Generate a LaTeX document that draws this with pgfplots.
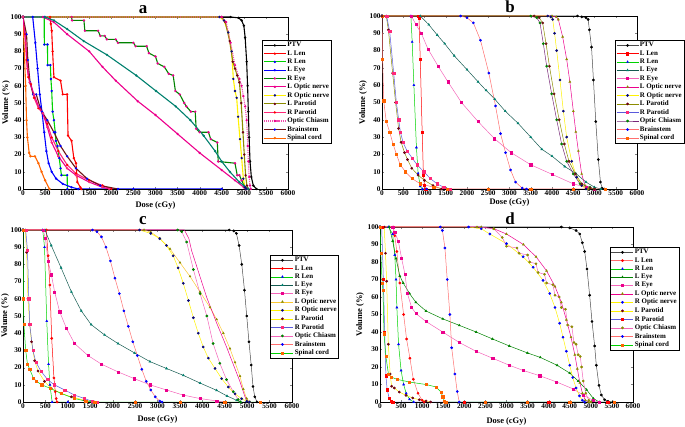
\documentclass[border=0pt]{standalone}
\usepackage{pgfplots}
\pgfplotsset{compat=1.18}
\usepackage{fontspec}
\setmainfont{Liberation Serif}
\definecolor{cteal}{RGB}{0,128,110}
\definecolor{cdteal}{RGB}{20,90,80}
\definecolor{cnavy}{RGB}{10,10,120}
\definecolor{colive}{RGB}{140,140,0}
\definecolor{cmaroon}{RGB}{110,0,20}
\definecolor{cslate}{RGB}{90,90,220}
\definecolor{cpink}{RGB}{255,40,120}
\definecolor{corange}{RGB}{255,100,0}
\definecolor{csalmon}{RGB}{255,110,110}
\definecolor{cgreen}{RGB}{0,210,0}
\definecolor{cdgreen}{RGB}{0,130,0}
\definecolor{ccyan}{RGB}{90,230,180}
\definecolor{cbrown}{RGB}{110,20,20}
\definecolor{cpurple}{RGB}{120,40,120}
\pgfplotsset{
  org/.style 2 args={draw=#1, mark options={draw=#2, fill=#2, solid}},
  dvh/.style={
    scale only axis, xmin=0, xmax=6000, ymin=0, ymax=100,
    xtick={0,500,...,6000}, ytick={0,10,...,100},
    tick align=inside, major tick length=2bp,
    /pgf/number format/assume math mode=true,
    /pgf/number format/1000 sep={},
    ticklabel style={font=\bfseries\fontsize{7.3}{8}\selectfont},
    xticklabel style={inner sep=1.2bp},
    yticklabel style={inner sep=1.2bp},
    xlabel={Dose (cGy)}, ylabel={Volume (\%)},
    label style={font=\bfseries\fontsize{8.5}{9}\selectfont},
    xlabel style={at={([yshift=-16bp]axis description cs:0.5,0)}, anchor=center},
    ylabel style={at={([xshift=-17bp]axis description cs:0,0.5)}, anchor=center},
    legend cell align=left,
    legend style={font=\bfseries\fontsize{7}{7.5}\selectfont, anchor=north west,
      draw=black, line width=0.5bp, inner sep=1bp, row sep=0pt,
      nodes={inner sep=1.1bp}},
    legend image code/.code={\draw[mark repeat=2,mark phase=2,#1] plot coordinates {(0bp,0bp)(11bp,0bp)(22bp,0bp)};},
    axis line style={line width=0.6bp},
  }
}
\tikzset{ptitle/.style={anchor=base, inner sep=0pt, font=\bfseries\fontsize{17}{17}\selectfont}}
\begin{document}
\begin{tikzpicture}
\path[use as bounding box] (0,0) rectangle (685bp,427bp);
\node[ptitle] at (143bp,413.5bp) {a};
\node[ptitle] at (510bp,414bp) {b};
\node[ptitle] at (143bp,202bp) {c};
\node[ptitle] at (510bp,202bp) {d};
% ================= a =================
\begin{axis}[dvh, at={(23bp,238bp)}, anchor=south west, width=265bp, height=172bp,
  legend style={at={(axis description cs:0.902,0.866)}},
  every axis plot/.append style={line width=1.1bp, mark size=0.55pt}]
\addplot[org={black}{black}, mark=*] coordinates {(0,100)(4700,100)(4880,99.5)(4950,98)(5000,95)(5030,88)(5064,74)(5085,60)(5102,45)(5120,30)(5140,16)(5170,7)(5215,2)(5290,0)};
\addlegendentry{PTV}
\addplot[org={red}{red}, mark=*] coordinates {(0,100)(610,100)(630,96)(650,92)(670,80)(700,65)(850,63)(900,55)(1000,55)(1020,31)(1100,28)(1150,18)(1200,15)(1230,4)(1300,1)(1320,0)};
\addlegendentry{L Len}
\addplot[org={cgreen}{blue}, mark=*] coordinates {(0,100)(480,100)(483,84)(555,84)(557,72)(620,72)(632,64)(650,57)(670,45)(700,40)(730,33)(745,28)(780,25)(820,18)(850,12)(870,8)(1000,8)(1005,0)};
\addlegendentry{R Len}
\addplot[org={blue}{blue}, mark=*] coordinates {(0,100)(220,100)(280,85)(330,70)(380,55)(430,45)(480,33)(530,22)(580,15)(650,10)(750,6)(900,3)(1100,1)(1250,0)(2500,0)(4500,0)};
\addlegendentry{L Eye}
\addplot[org={cdgreen}{magenta}, mark=*] coordinates {(0,100)(1100,100)(1110,98)(1380,98)(1400,92)(1700,92)(1750,89)(1850,89)(1900,87)(2100,87)(2150,85)(2500,85)(2550,83)(2800,83)(2850,79)(3000,77)(3050,73)(3200,71)(3300,67)(3400,66)(3450,57)(3550,55)(3650,50)(3700,48)(3800,45)(3900,45)(3920,35)(4000,33)(4200,33)(4250,29)(4400,27)(4420,16)(4800,15)(4850,8)(4900,8)(4950,5)(5050,0)};
\addlegendentry{R Eye}
\addplot[org={magenta}{magenta}, mark=*] coordinates {(0,100)(450,100)(700,97)(1000,90)(1500,80)(1800,71)(2100,63)(2600,51)(3000,43)(3500,32)(4000,21)(4500,11)(4800,5)(5000,1)(5100,0)};
\addlegendentry{L Optic nerve}
\addplot[org={yellow}{cnavy}, mark=*] coordinates {(0,100)(4450,100)(4550,98)(4649,91)(4725,80)(4762,64)(4800,57)(4838,53)(4870,42)(4913,29)(4951,18)(4989,6)(5026,1)(5050,0)};
\addlegendentry{R Optic nerve}
\addplot[org={colive}{cmaroon}, mark=*] coordinates {(0,100)(4500,100)(4580,97)(4680,86)(4750,74)(4800,70)(4850,66)(4900,62)(4940,50)(4980,33)(5010,20)(5040,8)(5070,2)(5100,0)};
\addlegendentry{L Parotid}
\addplot[org={cpink}{red}, mark=*] coordinates {(0,100)(50,90)(80,75)(120,65)(180,61)(250,53)(350,47)(450,44)(550,38)(650,30)(800,22)(1000,14)(1200,9)(1500,5)(1800,2)(2000,0)};
\addlegendentry{R Parotid}
\addplot[org={magenta!70}{magenta}, mark=*, densely dotted] coordinates {(0,100)(4500,100)(4600,97)(4700,85)(4800,72)(4900,64)(4950,60)(4989,54)(5030,48)(5064,40)(5090,25)(5102,16)(5120,7)(5140,2)(5160,0)};
\addlegendentry{Optic Chiasm}
\addplot[org={cbrown}{blue}, mark=*] coordinates {(0,100)(80,90)(110,75)(160,62)(230,55)(300,55)(380,48)(450,44)(550,40)(700,33)(850,25)(1000,19)(1200,12)(1450,6)(1750,2)(2150,0)};
\addlegendentry{Brainstem}
\addplot[org={corange}{corange}, mark=*] coordinates {(0,100)(30,80)(60,60)(80,40)(100,30)(140,21)(170,19)(270,19)(350,15)(420,10)(500,5)(600,0)};
\addlegendentry{Spinal cord}
\addplot[forget plot, org={cteal}{cteal}, mark=*] coordinates {(0,100)(500,100)(700,98)(1000,93)(1375,86)(1900,78)(2565,66)(3011,57)(3460,48)(3790,40)(4090,31)(4350,22)(4500,16)(4684,10)(4900,4)(5000,2)(5100,0)};
\addplot[forget plot, org={magenta}{cpink}, mark=*] coordinates {(0,100)(60,85)(100,70)(150,62)(250,55)(350,48)(450,44)(550,36)(650,27)(800,19)(1000,12)(1200,8)(1500,4)(1800,1)(1950,0)};
\end{axis}
% ================= b =================
\begin{axis}[dvh, at={(382bp,238bp)}, anchor=south west, width=255bp, height=173bp,
  ylabel style={at={([xshift=-19bp]axis description cs:0,0.5)}},
  xlabel style={at={([yshift=-13bp]axis description cs:0.5,0)}},
  legend style={at={(axis description cs:0.914,0.861)}},
  every axis plot/.append style={line width=0.5bp, mark size=1.1pt}]
\addplot[org={black!70}{black}, mark=*] coordinates {(0,100)(4600,100)(4700,99.5)(4800,99)(4850,98)(4880,92)(4930,82)(4975,63)(5030,39)(5090,17)(5140,4)(5180,0.5)(5230,0)};
\addlegendentry{PTV}
\addplot[org={red}{red}, mark=square*] coordinates {(0,100)(850,100)(870,99)(900,75)(945,33)(975,8)(1000,2)(1030,0)};
\addlegendentry{L Len}
\addplot[org={cgreen}{blue}, mark=triangle*] coordinates {(0,100)(680,100)(710,85)(750,60)(810,24)(850,9)(900,1.5)(950,0)(1050,0)};
\addlegendentry{R Len}
\addplot[org={cdteal}{cteal}, mark=triangle*] coordinates {(0,100)(900,100)(1100,95)(1300,89)(1475,84)(1700,77)(2000,69)(2259,62)(2450,57)(2651,52)(2900,45)(3200,38)(3500,30)(3760,23)(4000,19)(4300,13)(4560,9)(4800,4)(5000,1)(5150,0)};
\addlegendentry{L Eye}
\addplot[org={magenta!60}{magenta}, mark=square*] coordinates {(0,100)(690,100)(800,95)(925,90)(1080,81)(1320,71)(1550,62)(1870,50)(2260,39)(2650,29)(3040,21)(3500,14)(4000,8.5)(4500,3)(4800,1)(5000,0)};
\addlegendentry{R Eye}
\addplot[org={magenta}{colive}, mark=triangle*] coordinates {(0,100)(4000,100)(4100,99.5)(4149,98)(4250,88)(4345,75)(4420,62)(4502,45)(4560,33)(4620,22)(4698,8.7)(4776,2)(4850,0)};
\addlegendentry{L Optic nerve}
\addplot[org={yellow}{cnavy}, mark=*] coordinates {(0,100)(3900,100)(3970,99.5)(4016,98)(4060,90)(4110,80)(4188,63)(4267,45)(4345,30)(4463,16)(4580,6.8)(4698,2)(4800,0)};
\addlegendentry{R Optic nerve}
\addplot[org={colive}{cmaroon}, mark=*] coordinates {(0,100)(100,100)(150,92)(250,67)(320,50)(390,35)(450,27)(530,21)(600,17)(700,12)(850,8)(1000,5)(1200,2)(1400,0)};
\addlegendentry{L Parotid}
\addplot[org={cslate}{cpink}, mark=square*] coordinates {(0,100)(110,100)(181,91)(275,67)(338,50)(393,40)(432,33)(495,27)(589,22)(707,18)(825,14)(982,10)(1139,6)(1296,3)(1453,1)(1610,0)};
\addlegendentry{R Parotid}
\addplot[org={cpurple}{cdgreen}, mark=*] coordinates {(0,100)(3500,100)(3640,99)(3718,96)(3796,84)(3875,71)(3992,55)(4110,40)(4227,26)(4345,16)(4502,8.7)(4659,3)(4894,1)(5000,0)};
\addlegendentry{Optic Chiasm}
\addplot[org={csalmon}{blue}, mark=*] coordinates {(0,100)(1850,100)(2000,99)(2150,96)(2317,86)(2514,67)(2671,48)(2789,32)(2907,21)(3024,11)(3142,4)(3300,0.5)(3400,0)};
\addlegendentry{Brainstem}
\addplot[org={csalmon}{corange}, mark=square*] coordinates {(0,100)(15,75)(40,51)(100,39)(180,33)(260,26)(340,20)(430,14)(550,10)(707,6)(903,3)(1218,1)(1532,0)(2500,0)(3500,0)(4500,0)(5250,0)};
\addlegendentry{Spinal cord}
\addplot[forget plot, org={colive}{cbrown}, mark=*] coordinates {(0,100)(3580,100)(3700,99)(3780,96)(3860,84)(3940,71)(4050,55)(4170,40)(4290,26)(4400,16)(4550,8.7)(4700,3)(4900,0.5)(5000,0)};
\end{axis}
% ================= c =================
\begin{axis}[dvh, at={(23bp,25bp)}, anchor=south west, width=269bp, height=172bp,
  ylabel style={at={([xshift=-18bp]axis description cs:0,0.5)}},
  xlabel style={at={([yshift=-17bp]axis description cs:0.5,0)}},
  legend style={at={(axis description cs:0.918,0.855)}},
  every axis plot/.append style={line width=0.5bp, mark size=1.1pt}]
\addplot[org={black!70}{black}, mark=*] coordinates {(0,100)(4600,100)(4700,99.5)(4760,98)(4820,91)(4880,80)(4940,65)(4990,50)(5040,35)(5090,21.5)(5130,9)(5170,3)(5220,0)};
\addlegendentry{PTV}
\addplot[org={red}{red}, mark=*] coordinates {(0,100)(520,100)(560,85)(600,68)(640,37)(690,14)(720,6)(740,2)(760,0)};
\addlegendentry{L Len}
\addplot[org={cgreen}{blue}, mark=triangle*] coordinates {(0,100)(440,100)(480,90)(530,47)(570,22)(600,10)(650,0)(1000,0)};
\addlegendentry{R Len}
\addplot[org={cdteal}{cteal}, mark=triangle*] coordinates {(0,100)(490,100)(630,91)(850,78)(1080,64)(1300,53)(1520,45)(1820,39)(2120,34)(2490,28.5)(2830,23.5)(3200,19.5)(3575,15.5)(3950,11)(4318,6.8)(4550,3.5)(4765,1)(4850,0)};
\addlegendentry{L Eye}
\addplot[org={magenta!60}{magenta}, mark=square*] coordinates {(0,100)(450,100)(500,95)(558,82)(632,74)(706,64)(818,52.5)(966,43)(1150,34)(1450,27)(1750,22)(2120,17.5)(2490,13.5)(2830,10)(3200,7)(3575,4)(3950,2)(4320,0.6)(4500,0)};
\addlegendentry{R Eye}
\addplot[org={yellow!80!magenta}{colive}, mark=triangle*] coordinates {(0,100)(2700,100)(2850,98.8)(3056,95)(3279,89)(3502,81)(3725,73)(3948,64)(4171,55)(4320,48)(4468,40)(4617,31)(4729,23)(4840,15)(4914,7.5)(4989,2)(5063,0)};
\addlegendentry{L Optic nerve}
\addplot[org={yellow}{cnavy}, mark=*] coordinates {(0,100)(2600,100)(2850,98)(3050,95)(3200,91)(3350,85)(3460,78)(3575,69)(3690,59)(3800,49)(3910,40)(4020,32)(4134,25.5)(4283,19.5)(4431,13.6)(4580,8.7)(4729,4.8)(4877,1.9)(4990,0.4)(5050,0)};
\addlegendentry{R Optic nerve}
\addplot[org={yellow}{cmaroon}, mark=*] coordinates {(0,100)(50,100)(80,87)(110,60)(150,45)(190,35)(260,24)(335,18)(480,12)(630,8)(850,5)(1080,3)(1375,1)(1600,0)};
\addlegendentry{L Parotid}
\addplot[org={cslate}{cpink}, mark=square*] coordinates {(0,100)(60,100)(100,88)(130,60)(150,45)(220,30)(290,23)(400,18)(550,13)(700,10)(930,7)(1150,4)(1375,2)(1550,0.3)(1650,0)};
\addlegendentry{R Parotid}
\addplot[org={magenta!60}{cdgreen}, mark=*] coordinates {(0,100)(3450,100)(3540,99)(3650,93)(3800,77)(3950,63)(4100,50)(4240,34)(4390,22.5)(4540,13)(4690,6)(4800,1.4)(4850,0)};
\addlegendentry{Optic Chiasm}
\addplot[org={csalmon}{blue}, mark=*] coordinates {(0,100)(1550,100)(1650,99)(1750,96)(1850,90)(1950,82)(2050,72)(2150,63)(2250,53)(2350,44)(2450,35)(2550,27)(2650,19)(2750,12)(2850,7)(2950,3)(3050,0.5)(3100,0)};
\addlegendentry{Brainstem}
\addplot[org={cgreen}{corange}, mark=square*] coordinates {(0,100)(10,60)(20,45)(60,30)(100,22)(150,19)(230,14)(300,12)(420,10)(600,8)(850,5)(1150,2)(1400,0.5)(1600,0)(2500,0)(3500,0)(4500,0)(5300,0)};
\addlegendentry{Spinal cord}
\addplot[forget plot, org={magenta}{magenta}, mark=none] coordinates {(0,100)(3600,100)(3700,95)(3761,88)(3947,73)(4095,61)(4318,46)(4540,32)(4688,22)(4837,12)(4948,3.3)(5000,0)};
\end{axis}
% ================= d =================
\begin{axis}[dvh, at={(380bp,25bp)}, anchor=south west, width=253bp, height=175bp,
  ylabel style={at={([xshift=-20bp]axis description cs:0,0.5)}},
  xlabel style={at={([yshift=-19bp]axis description cs:0.5,0)}},
  legend style={at={(axis description cs:0.909,0.886)}},
  every axis plot/.append style={line width=0.5bp, mark size=1.1pt}]
\addplot[org={black!70}{black}, mark=*] coordinates {(0,100)(4300,100)(4500,99.5)(4650,98)(4736,96)(4799,91)(4854,86)(4909,76)(4972,61)(5028,46)(5091,32)(5130,21)(5193,9.5)(5249,4)(5328,1.3)(5406,0.4)(5525,0)};
\addlegendentry{PTV}
\addplot[org={csalmon}{red}, mark=*] coordinates {(0,100)(310,100)(350,95)(400,86)(470,68)(560,50)(630,36)(710,25)(790,13)(900,5)(1000,1)(1050,0)};
\addlegendentry{L Len}
\addplot[org={cgreen}{blue}, mark=triangle*] coordinates {(0,100)(200,100)(300,96)(350,84)(380,70)(400,54)(440,33)(500,18)(560,10)(620,5)(700,1.5)(800,0)};
\addlegendentry{R Len}
\addplot[org={cdgreen}{cdgreen}, mark=triangle*] coordinates {(0,100)(220,100)(300,92)(380,82)(470,72)(550,68)(700,62)(850,57)(1090,52)(1490,47.5)(1880,43.8)(2280,40)(2670,36)(3070,32)(3500,28)(3800,25.5)(4200,21)(4500,16.5)(4700,12)(4900,7)(5060,2)(5200,0)};
\addlegendentry{L Eye}
\addplot[org={magenta!60}{magenta}, mark=square*] coordinates {(0,100)(300,100)(350,97)(434,92)(513,82)(592,73)(650,62)(750,54)(854,50.5)(1091,46)(1486,40)(1881,34)(2277,29)(2672,25)(3067,21)(3400,18)(3789,15)(4183,11.5)(4578,7.5)(4814,4)(5051,1)(5200,0)};
\addlegendentry{R Eye}
\addplot[org={magenta}{colive}, mark=triangle*] coordinates {(0,100)(2400,100)(2700,99)(3000,96)(3400,90)(3700,83)(3950,75)(4150,66)(4300,57)(4420,47)(4530,37)(4620,27)(4680,19)(4740,11)(4800,5)(4870,1)(4950,0)};
\addlegendentry{L Optic nerve}
\addplot[org={yellow}{blue}, mark=*] coordinates {(0,100)(2100,100)(2400,99)(2605,96)(2999,90.5)(3394,83)(3631,77)(3867,69.5)(4025,62)(4150,54)(4260,45)(4340,37)(4420,29)(4500,21)(4570,14)(4650,8)(4730,3.5)(4800,1)(4850,0)};
\addlegendentry{R Optic nerve}
\addplot[org={yellow}{cmaroon}, mark=*] coordinates {(0,100)(100,100)(130,85)(158,69)(197,33)(240,16)(276,9)(340,8)(458,5.7)(617,3.8)(775,2.3)(933,1.3)(1091,0.6)(1200,0)};
\addlegendentry{L Parotid}
\addplot[org={cslate}{red}, mark=square*] coordinates {(0,100)(40,100)(80,70)(110,40)(140,15)(170,7)(220,2)(260,0.5)(300,0)(2000,0)(4000,0)(5400,0)};
\addlegendentry{R Parotid}
\addplot[org={magenta!60}{colive}, mark=*] coordinates {(0,100)(2300,100)(2700,99)(2900,94)(3000,89)(3250,88)(3300,85)(3500,84)(3550,80)(3700,79)(3750,74)(3900,73)(3950,68)(4100,67)(4150,61)(4250,60)(4300,54)(4400,53)(4450,44)(4550,43)(4600,34)(4650,33)(4700,27)(4750,26)(4780,20)(4820,12)(4880,5)(4950,1)(5000,0)};
\addlegendentry{Optic Chiasm}
\addplot[org={csalmon}{blue}, mark=*] coordinates {(0,100)(1430,100)(1480,98)(1540,88)(1594,70)(1657,50)(1700,31)(1776,16)(1831,6)(1880,0)};
\addlegendentry{Brainstem}
\addplot[org={cgreen}{corange}, mark=square*] coordinates {(0,100)(20,85)(50,68)(70,64)(95,39)(140,26)(200,16)(261,14.3)(400,13)(696,11.4)(1091,10)(1328,8.6)(1447,5.7)(1486,3)(1526,0.6)(1560,0)(2500,0)(3500,0)(4500,0)(5550,0)};
\addlegendentry{Spinal cord}
\end{axis}
\end{tikzpicture}
\end{document}
